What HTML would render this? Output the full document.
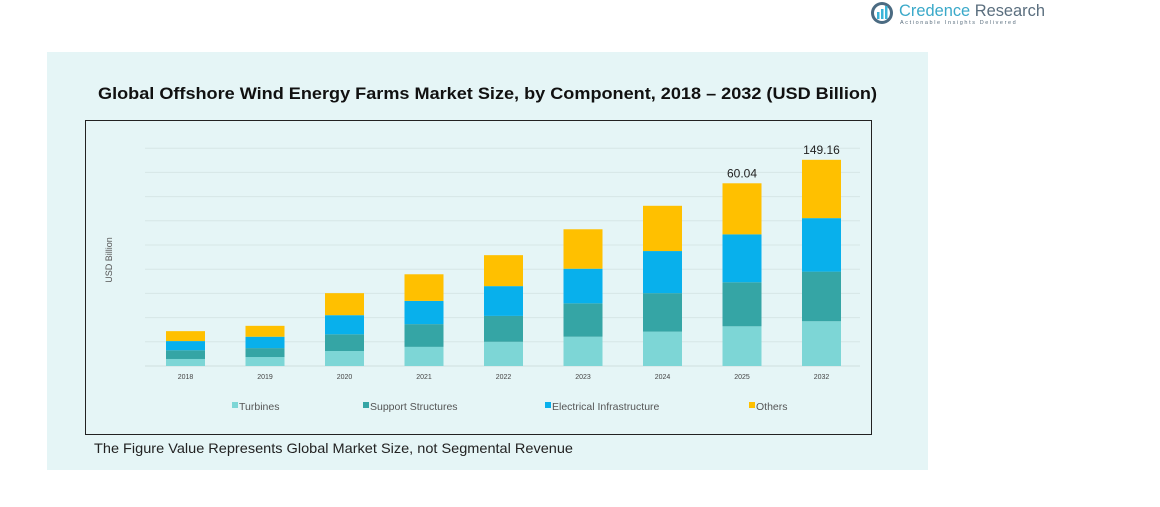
<!DOCTYPE html>
<html><head><meta charset="utf-8"><style>
html,body{margin:0;padding:0;background:#fff;width:1160px;height:507px;overflow:hidden;font-family:"Liberation Sans",sans-serif}
</style></head><body>
<svg id="chart" width="1160" height="507" xmlns="http://www.w3.org/2000/svg">
<rect x="47" y="52" width="881" height="418" fill="#e5f5f6"/>
<g>
<circle cx="882" cy="13" r="11" fill="#4b6b82"/>
<circle cx="882" cy="13" r="8" fill="#fff"/>
<rect x="877" y="12" width="2.5" height="7" fill="#3bb4d8"/><rect x="881" y="9" width="2.5" height="10" fill="#3bb4d8"/><rect x="885" y="6" width="2.5" height="13" fill="#3bb4d8"/>
<text x="899" y="16" font-size="17" fill="#3aa9c9" textLength="146" lengthAdjust="spacingAndGlyphs">Credence <tspan fill="#5a6e7e">Research</tspan></text>
<text x="900" y="24" font-size="5.5" fill="#5a6e7e" letter-spacing="1.6">Actionable Insights Delivered</text>
</g>
<text x="98" y="99" font-size="17" font-weight="bold" fill="#111" textLength="779" lengthAdjust="spacingAndGlyphs">Global Offshore Wind Energy Farms Market Size, by Component, 2018 – 2032 (USD Billion)</text>
<rect x="85.5" y="120.5" width="786" height="314" fill="none" stroke="#222" stroke-width="1"/>
<text transform="translate(112,260) rotate(-90)" text-anchor="middle" font-size="9" fill="#555">USD Billion</text>
<g id="grid"></g><g id="bars"></g><g id="xlabels"></g><g id="totals"></g>
<g id="legend"></g>
<text x="94" y="453" font-size="14" fill="#222" textLength="479" lengthAdjust="spacingAndGlyphs">The Figure Value Represents Global Market Size, not Segmental Revenue</text>
</svg>
<script>
const categories = ["2018","2019","2020","2021","2022","2023","2024","2025","2032"];
const turbines = [0.29,0.37,0.62,0.79,1.0,1.21,1.42,1.64,1.85];
const supportStructures = [0.36,0.37,0.69,0.94,1.07,1.38,1.59,1.82,2.05];
const electricalInfra = [0.38,0.47,0.79,0.96,1.23,1.43,1.74,1.98,2.21];
const others = [0.41,0.45,0.91,1.10,1.28,1.63,1.87,2.11,2.41];
const totalLabels = ["","","","","","","","60.04","149.16"];
const gridTicks = [0,1,2,3,4,5,6,7,8,9];
const seriesNames = ["Turbines","Support Structures","Electrical Infrastructure","Others"];
const colors = ["#7dd6d6","#35a5a5","#08b0ec","#ffc000"];
const NS="http://www.w3.org/2000/svg";
const base=366, unit=24.2, x0=185.5, step=79.5, bw=39;
const y = v => base - v*unit;
const xc = i => x0 + i*step;
function mk(tag,attrs,parent){const e=document.createElementNS(NS,tag);for(const k in attrs)e.setAttribute(k,attrs[k]);document.getElementById(parent).appendChild(e);return e;}
gridTicks.forEach(t=>{
  const l=mk("line",{x1:145,x2:860,y1:y(t),y2:y(t),stroke:t===0?"#cfdede":"#d6e6e6","stroke-width":1},"grid");
  
  
});
const series=[turbines,supportStructures,electricalInfra,others];
categories.forEach((c,i)=>{
  let cum=0;
  series.forEach((s,k)=>{
    const r=mk("rect",{x:xc(i)-bw/2,y:y(cum+s[i]),width:bw,height:s[i]*unit,fill:colors[k]},"bars");
    
    
    cum+=s[i];
  });
  const t=mk("text",{x:xc(i),y:379,"text-anchor":"middle","font-size":7,fill:"#444"},"xlabels");
  t.textContent=c;
  
  
  if(totalLabels[i]){
    const v=mk("text",{x:xc(i),y:y(cum)-6,"text-anchor":"middle","font-size":12,fill:"#222"},"totals");
    v.textContent=totalLabels[i];
    
    
  }
});
const lx=[232,363,545,749];
seriesNames.forEach((n,k)=>{
  const r=mk("rect",{x:lx[k],y:402,width:6,height:6,fill:colors[k]},"legend");
  
  
  const t=mk("text",{x:lx[k]+7,y:410,"font-size":10.5,fill:"#555"},"legend");
  t.textContent=n;
  
  
});
</script>
</body></html>
